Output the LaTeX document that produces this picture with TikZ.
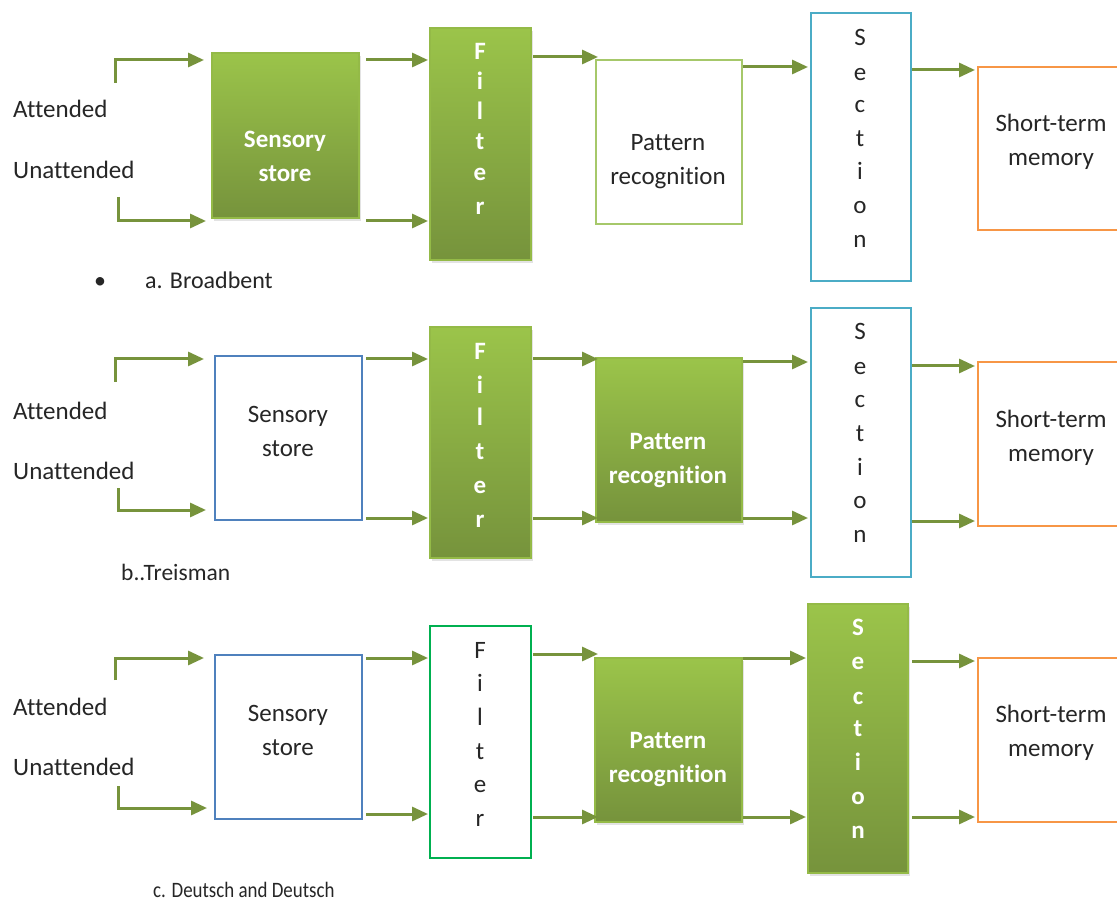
\documentclass[tikz,border=0pt]{standalone}
\usepackage{fontspec}
\setmainfont{Carlito}[Ligatures=NoCommon]
\usetikzlibrary{arrows.meta,shadows,calc}

\definecolor{arrowgreen}{HTML}{77933C}
\definecolor{gtop}{HTML}{9BC44A}
\definecolor{gbot}{HTML}{76933C}
\definecolor{palegreen}{HTML}{A6C86A}
\definecolor{secblue}{HTML}{4BACC6}
\definecolor{storeblue}{HTML}{4F81BD}
\definecolor{filtgreen}{HTML}{00B050}
\definecolor{stmorange}{HTML}{F79646}
\definecolor{ink}{HTML}{262626}

\tikzset{
  box/.style={rectangle, inner sep=0pt, outer sep=0pt, line width=1.7pt},
  greenbox/.style={box, draw=gtop!80!gbot, top color=gtop, bottom color=gbot,
    drop shadow={shadow xshift=2pt, shadow yshift=-3pt, opacity=0.22}},
  outline/.style={box, draw=#1, fill=white},
  arr/.style={draw=arrowgreen, line width=3pt, -{Triangle[length=16pt,width=14pt]}},
  lbl/.style={inner sep=0pt, align=center, text=ink, font=\fontsize{25}{34}\selectfont},
  wlbl/.style={inner sep=0pt, align=center, text=white, font=\fontsize{25}{34}\selectfont\bfseries},
  ltr/.style={inner sep=0pt, text height=15pt, text depth=0pt, text=ink, font=\fontsize{25}{34}\selectfont},
  wltr/.style={inner sep=0pt, text height=15pt, text depth=0pt, text=white, font=\fontsize{25}{34}\selectfont\bfseries},
  caption/.style={inner sep=0pt, anchor=west, text=ink, font=\fontsize{24}{30}\selectfont}
}

% box given by its corners x1,y1,x2,y2 (y grows downward)
\newcommand\stagebox[6]{%
  \node[#1, minimum width={(#5-#3)*1pt}, minimum height={(#6-#4)*1pt}]
    (#2) at ({(#3+#5)/2},{(#4+#6)/2}) {};}
% horizontal connector at height y, with start and end gaps
\newcommand\link[5]{%
  \draw[arr, shorten <=#4pt, shorten >=#5pt] (#1.east |- 0,#3) -- (#2.west |- 0,#3);}

\begin{document}
\begin{tikzpicture}[x=1pt, y=-1pt]
\clip (0,0) rectangle (1117,901);
\fill[white] (0,0) rectangle (1117,901);

% ---------------- a. Broadbent ----------------
\stagebox{greenbox}{sa}{212}{53}{359}{218}
\stagebox{greenbox}{fa}{430}{28}{531}{260}
\stagebox{outline=palegreen}{pa}{596}{60}{742}{224}
\stagebox{outline=secblue}{ca}{811}{13}{911}{281}
\stagebox{outline=stmorange}{ma}{978}{67}{1140}{230}

\node[lbl, anchor=west] (a-att-t) at (13,109) {Attended};
\node[lbl, anchor=west] (a-un-t) at (13,170) {Unattended};
\node[wlbl] (sa-t) at (285,156) {Sensory\\store};
\foreach \ch/\yy [count=\i] in {F/52,i/82,l/112,t/142,e/173,r/207}
  \node[wltr] (fa-\i) at (480,\yy) {\ch};
\node[lbl] (pa-t) at (668,162) {Pattern\\recognition};
\foreach \ch/\yy [count=\i] in {S/38,e/73,c/105,t/139,i/172,o/206,n/240}
  \node[ltr] (ca-\i) at (860,\yy) {\ch};
\node[lbl] (ma-t) at (1051,141.5) {Short-term\\memory};

\coordinate (a-att) at (115,83);
\coordinate (a-un) at (118,197);
\draw[arr, shorten >=8pt] (a-att) |- (sa.west |- 0,60);
\draw[arr, shorten >=6pt] (a-un) |- (sa.west |- 0,221);
\link{sa}{fa}{60}{7}{2}
\link{sa}{fa}{221}{7}{2}
\link{fa}{pa}{57}{2}{-2}
\link{pa}{ca}{67}{1}{3}
\link{ca}{ma}{70}{1}{3}

\node[text=ink, inner sep=0pt, font=\fontsize{24}{30}\selectfont] (a-dot) at (100,283) {\textbullet};
\node[caption] (a-cap) at (145,280) {a. Broadbent};

% ---------------- b. Treisman ----------------
\stagebox{outline=storeblue}{sb}{215}{356}{362}{520}
\stagebox{greenbox}{fb}{430}{327}{531}{558}
\stagebox{greenbox}{pb}{596}{358}{742}{522}
\stagebox{outline=secblue}{cb}{811}{308}{911}{577}
\stagebox{outline=stmorange}{mb}{978}{362}{1140}{526}

\node[lbl, anchor=west] (b-att-t) at (13,411) {Attended};
\node[lbl, anchor=west] (b-un-t) at (13,471) {Unattended};
\node[lbl] (sb-t) at (288,431) {Sensory\\store};
\foreach \ch/\yy [count=\i] in {F/352,i/386,l/418,t/452,e/486,r/520}
  \node[wltr] (fb-\i) at (480,\yy) {\ch};
\node[wlbl] (pb-t) at (668,461) {Pattern\\recognition};
\foreach \ch/\yy [count=\i] in {S/332,e/367,c/400,t/434,i/468,o/501,n/535}
  \node[ltr] (cb-\i) at (860,\yy) {\ch};
\node[lbl] (mb-t) at (1051,437.5) {Short-term\\memory};

\coordinate (b-att) at (115,382);
\coordinate (b-un) at (118,488);
\draw[arr, shorten >=11pt] (b-att) |- (sb.west |- 0,359);
\draw[arr, shorten >=9pt] (b-un) |- (sb.west |- 0,510);
\link{sb}{fb}{359}{4}{2}
\link{sb}{fb}{518}{4}{2}
\link{fb}{pb}{359}{2}{-2}
\link{fb}{pb}{518}{2}{-2}
\link{pb}{cb}{362}{1}{3}
\link{pb}{cb}{518}{1}{3}
\link{cb}{mb}{366}{1}{3}
\link{cb}{mb}{521}{1}{3}

\node[caption, font=\fontsize{23.5}{28}\selectfont] (b-cap) at (121,572) {b..Treisman};

% ---------------- c. Deutsch and Deutsch ----------------
\stagebox{outline=storeblue}{sc}{215}{655}{362}{819}
\stagebox{outline=filtgreen}{fc}{430}{626}{531}{858}
\stagebox{greenbox}{pc}{595}{658}{742}{822}
\stagebox{greenbox}{cc}{808}{604}{908}{873}
\stagebox{outline=stmorange}{mc}{978}{658}{1140}{822}

\node[lbl, anchor=west] (c-att-t) at (13,707) {Attended};
\node[lbl, anchor=west] (c-un-t) at (13,767) {Unattended};
\node[lbl] (sc-t) at (288,730) {Sensory\\store};
\foreach \ch/\yy [count=\i] in {F/651,i/684,l/718,t/752,e/785,r/819}
  \node[ltr] (fc-\i) at (480,\yy) {\ch};
\node[wlbl] (pc-t) at (668,760) {Pattern\\recognition};
\foreach \ch/\yy [count=\i] in {S/628,e/662,c/697,t/729,i/763,o/797,n/831}
  \node[wltr] (cc-\i) at (858,\yy) {\ch};
\node[lbl] (mc-t) at (1051,733) {Short-term\\memory};

\coordinate (c-att) at (115,680);
\coordinate (c-un) at (118,786);
\draw[arr, shorten >=11pt] (c-att) |- (sc.west |- 0,658);
\draw[arr, shorten >=8pt] (c-un) |- (sc.west |- 0,808);
\link{sc}{fc}{658}{4}{2}
\link{sc}{fc}{814}{4}{2}
\link{fc}{pc}{654}{2}{-3}
\link{fc}{pc}{817}{2}{-3}
\link{pc}{cc}{658}{1}{2}
\link{pc}{cc}{817}{1}{2}
\link{cc}{mc}{661}{4}{3}
\link{cc}{mc}{817}{4}{3}

\node[caption, font=\fontsize{22}{28}\selectfont] (c-cap) at (153,890)
  {\scalebox{0.86}[1]{c. Deutsch and Deutsch}};
\end{tikzpicture}
\end{document}
